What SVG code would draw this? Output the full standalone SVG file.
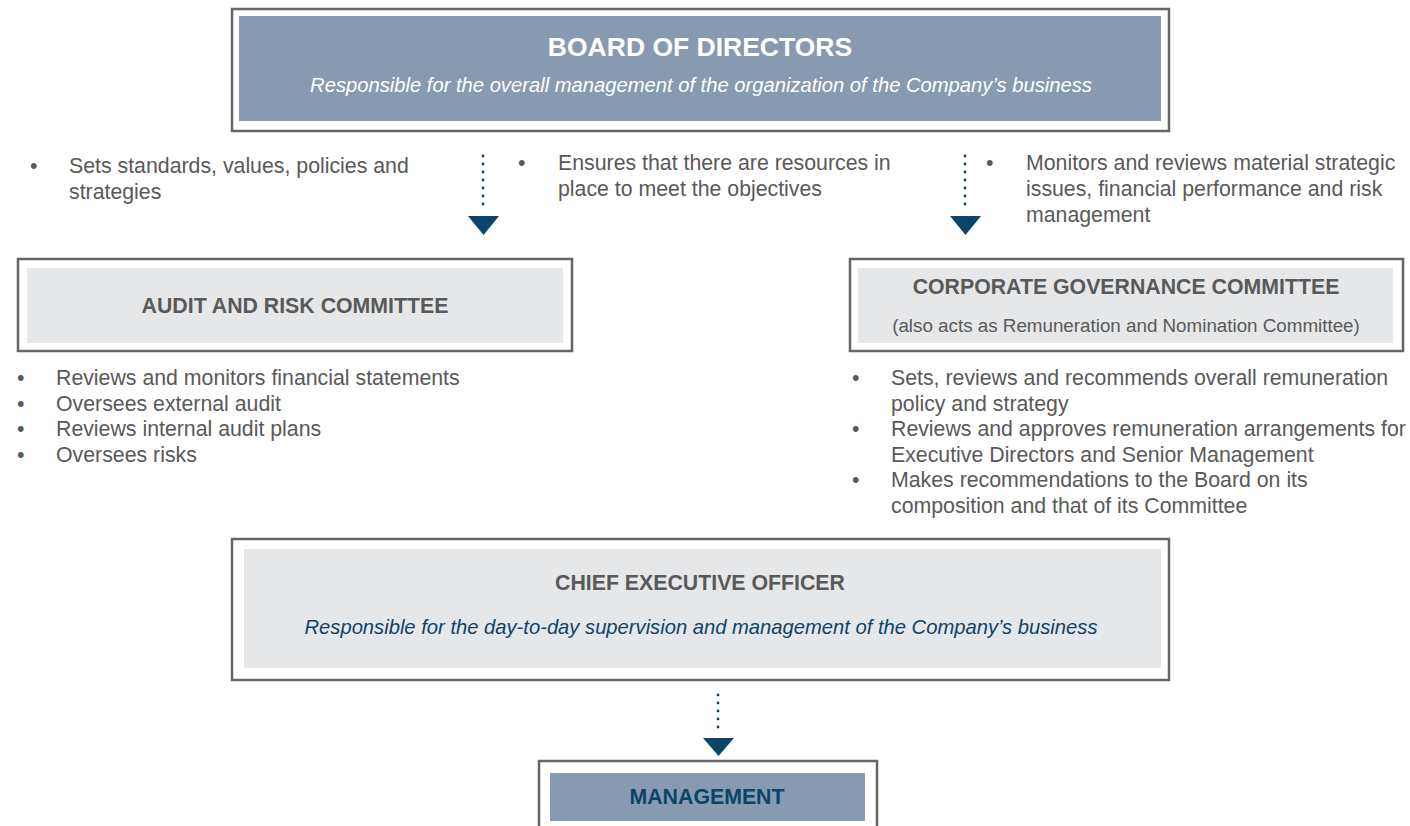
<svg xmlns="http://www.w3.org/2000/svg" width="1410" height="826" viewBox="0 0 1410 826">
  <style>
    .frame { fill: #ffffff; stroke: #666666; stroke-width: 2.5; }
    .blue { fill: #869AB1; }
    .light { fill: #E6E7E9; }
    .t { font-family: "Liberation Sans", Arial, sans-serif; }
    .title { font-weight: bold; font-size: 21.3px; fill: #595959; text-anchor: middle; }
    .body { font-size: 21.3px; fill: #595959; }
    .sub { font-style: italic; font-size: 20.2px; text-anchor: middle; }
    .dots { stroke: #0B4469; stroke-width: 2.8; stroke-dasharray: 0 8; stroke-linecap: round; fill: none; }
    .head { fill: #0B4469; }
  </style>

  <!-- Board of Directors -->
  <g id="board">
    <rect class="frame" x="232" y="9" width="937" height="122"/>
    <rect class="blue" x="239" y="16" width="922" height="105"/>
    <text class="t" x="700" y="56" font-size="26.5" font-weight="bold" fill="#ffffff" text-anchor="middle">BOARD OF DIRECTORS</text>
    <text class="t sub" x="701" y="92" fill="#ffffff">Responsible for the overall management of the organization of the Company’s business</text>
  </g>

  <!-- Board responsibilities -->
  <g id="board-duties" class="t body">
    <text x="30" y="173">•</text>
    <text x="69" y="173">Sets standards, values, policies and</text>
    <text x="69" y="199">strategies</text>
    <text x="518" y="170">•</text>
    <text x="558" y="170">Ensures that there are resources in</text>
    <text x="558" y="196">place to meet the objectives</text>
    <text x="986" y="170">•</text>
    <text x="1026" y="170">Monitors and reviews material strategic</text>
    <text x="1026" y="196">issues, financial performance and risk</text>
    <text x="1026" y="222">management</text>
  </g>

  <!-- Connectors -->
  <g id="connectors">
    <line class="dots" x1="483" y1="156" x2="483" y2="212"/>
    <polygon class="head" points="468,216 499,216 483.5,235"/>
    <line class="dots" x1="965" y1="156" x2="965" y2="212"/>
    <polygon class="head" points="950,216 981,216 965.5,235"/>
    <line class="dots" x1="718" y1="695" x2="718" y2="735"/>
    <polygon class="head" points="703,738 734,738 718.5,756"/>
  </g>

  <!-- Audit and Risk Committee -->
  <g id="audit">
    <rect class="frame" x="18" y="259" width="554" height="92"/>
    <rect class="light" x="27" y="268" width="536" height="75"/>
    <text class="t title" x="295" y="313">AUDIT AND RISK COMMITTEE</text>
  </g>
  <g id="audit-duties" class="t body">
    <text x="17" y="385">•</text>
    <text x="56" y="385">Reviews and monitors financial statements</text>
    <text x="17" y="411">•</text>
    <text x="56" y="411">Oversees external audit</text>
    <text x="17" y="436">•</text>
    <text x="56" y="436">Reviews internal audit plans</text>
    <text x="17" y="462">•</text>
    <text x="56" y="462">Oversees risks</text>
  </g>

  <!-- Corporate Governance Committee -->
  <g id="governance">
    <rect class="frame" x="850" y="259" width="553" height="92"/>
    <rect class="light" x="858" y="268" width="535" height="75"/>
    <text class="t title" x="1126" y="294">CORPORATE GOVERNANCE COMMITTEE</text>
    <text class="t" x="1126" y="332" font-size="18.8" fill="#595959" text-anchor="middle">(also acts as Remuneration and Nomination Committee)</text>
  </g>
  <g id="governance-duties" class="t body">
    <text x="852" y="385">•</text>
    <text x="891" y="385">Sets, reviews and recommends overall remuneration</text>
    <text x="891" y="411">policy and strategy</text>
    <text x="852" y="436">•</text>
    <text x="891" y="436">Reviews and approves remuneration arrangements for</text>
    <text x="891" y="462">Executive Directors and Senior Management</text>
    <text x="852" y="487">•</text>
    <text x="891" y="487">Makes recommendations to the Board on its</text>
    <text x="891" y="513">composition and that of its Committee</text>
  </g>

  <!-- Chief Executive Officer -->
  <g id="ceo">
    <rect class="frame" x="232" y="539" width="937" height="141"/>
    <rect class="light" x="244" y="549" width="917" height="119"/>
    <text class="t title" x="700" y="590">CHIEF EXECUTIVE OFFICER</text>
    <text class="t sub" x="701" y="634" fill="#0B4469">Responsible for the day-to-day supervision and management of the Company’s business</text>
  </g>

  <!-- Management -->
  <g id="management">
    <rect class="frame" x="539" y="761" width="338" height="80"/>
    <rect class="blue" x="550" y="773" width="315" height="48"/>
    <text class="t" x="707" y="804" font-size="21.3" font-weight="bold" fill="#0B4469" text-anchor="middle">MANAGEMENT</text>
  </g>
</svg>
